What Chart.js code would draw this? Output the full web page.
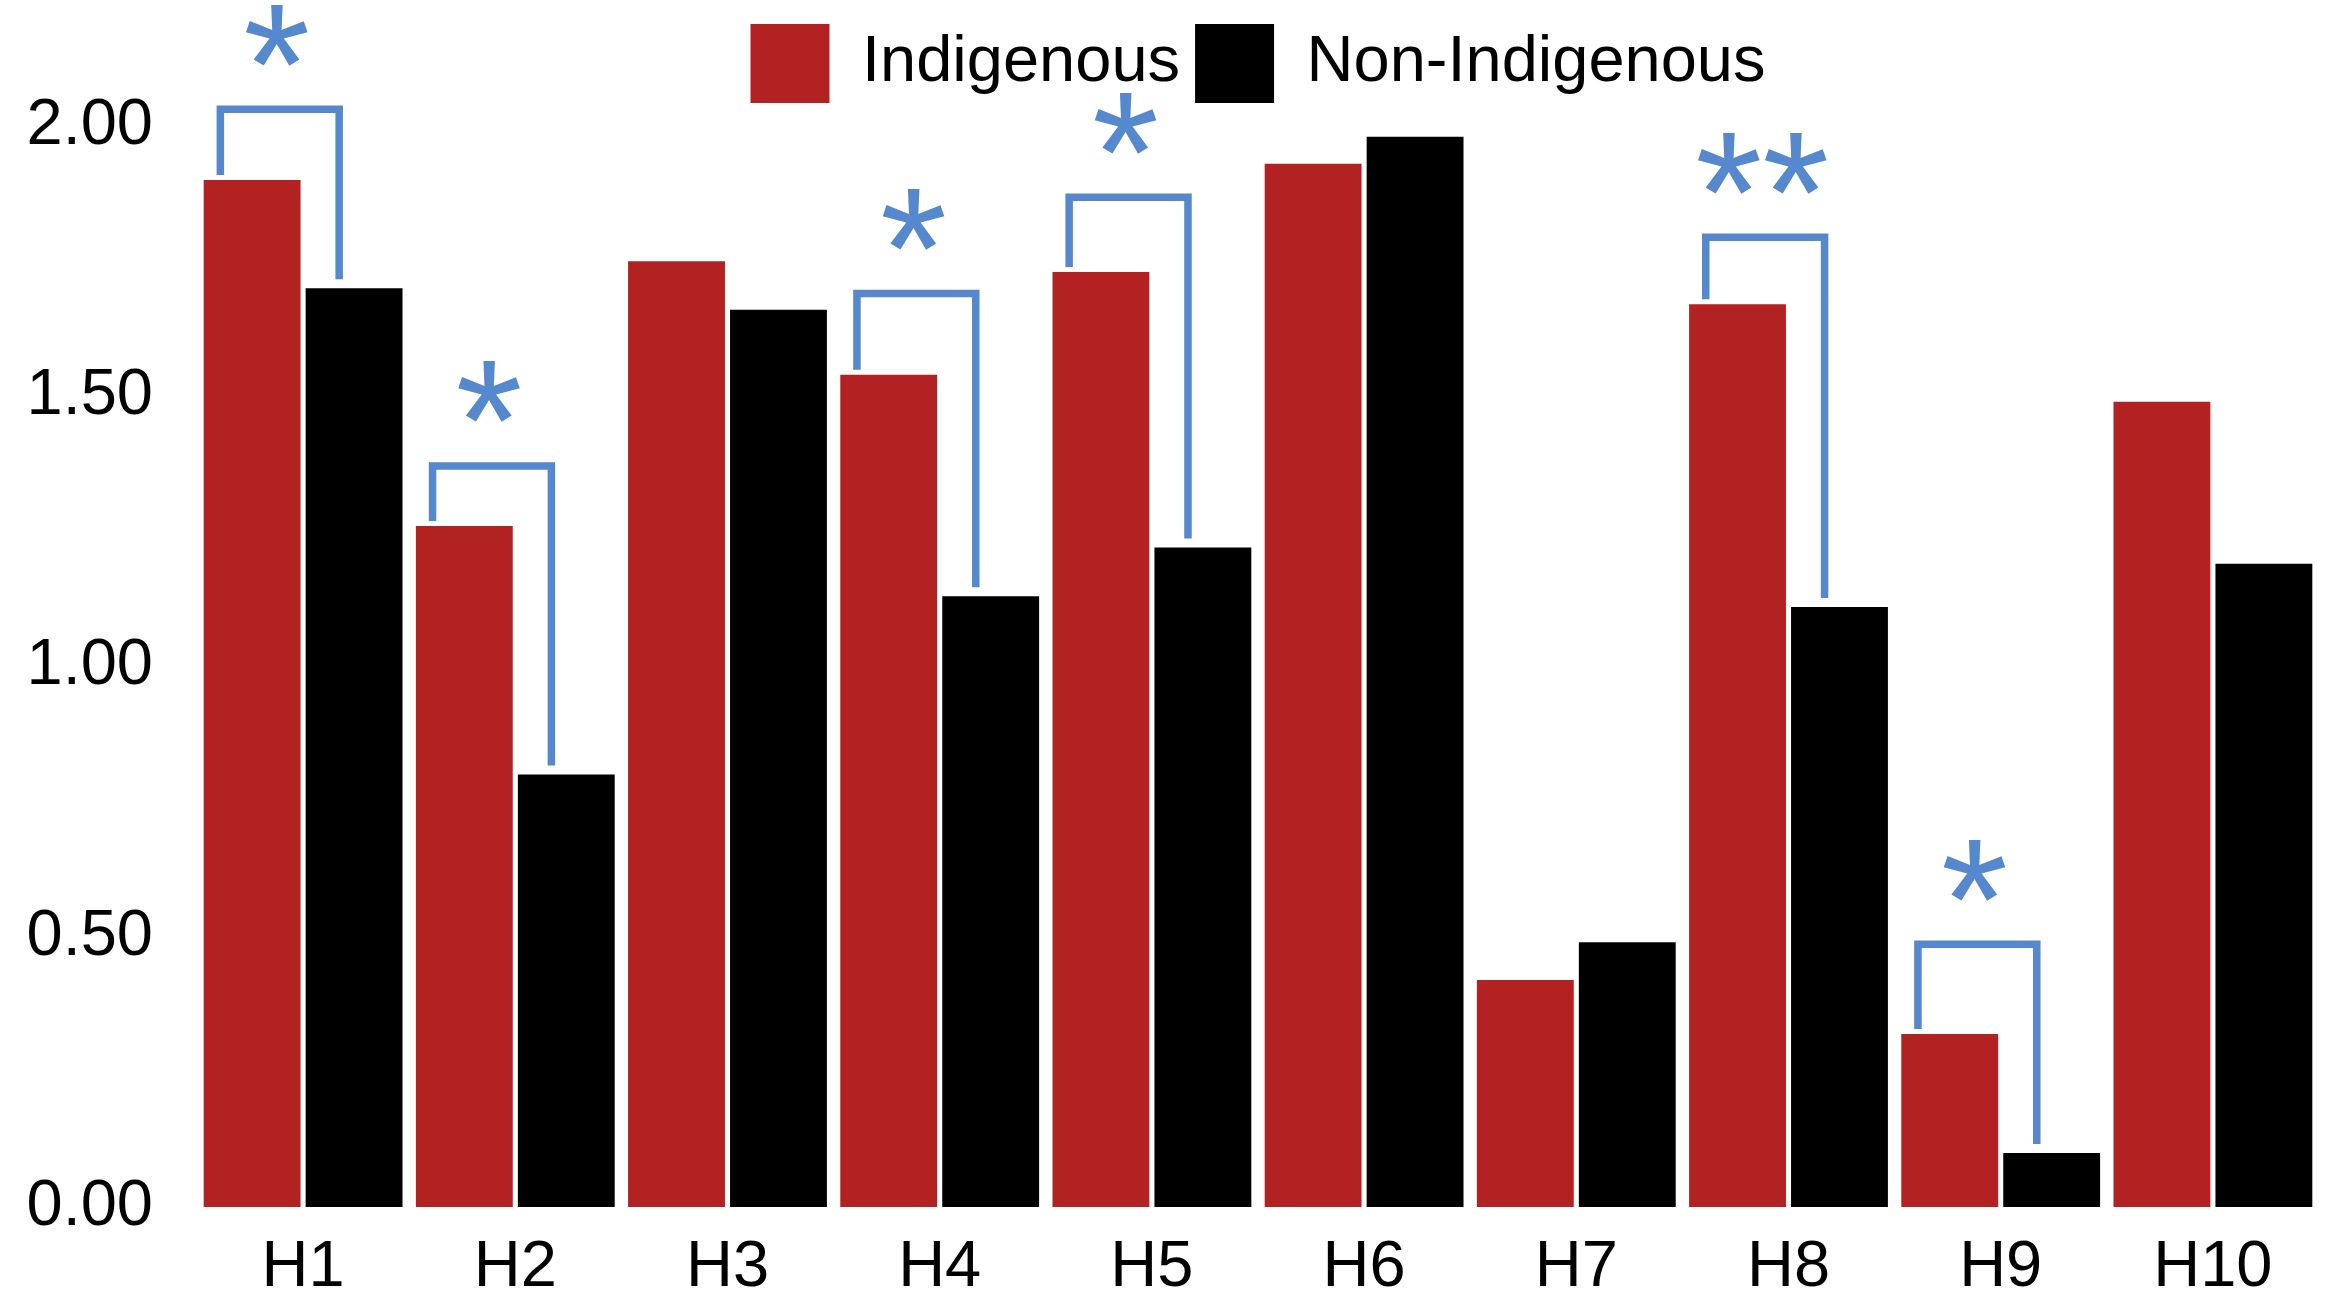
<!DOCTYPE html>
<html>
<head>
<meta charset="utf-8">
<script src="https://cdn.jsdelivr.net/npm/chart.js@4.4.1/dist/chart.umd.min.js"></script>
<style>
  html, body { margin: 0; padding: 0; background: #fff; }
  #wrap { width: 2331px; height: 1295px; }
</style>
</head>
<body>
<div id="wrap"><canvas id="chart" width="2331" height="1295"></canvas></div>
<script>
// data
const categories = ['H1', 'H2', 'H3', 'H4', 'H5', 'H6', 'H7', 'H8', 'H9', 'H10'];
const indigenous = [1.90, 1.26, 1.75, 1.54, 1.73, 1.93, 0.42, 1.67, 0.32, 1.49];
const nonIndigenous = [1.70, 0.80, 1.66, 1.13, 1.22, 1.98, 0.49, 1.11, 0.10, 1.19];
const yTicks = [0, 0.5, 1, 1.5, 2];

// significance markers and the height of each bracket
const signif = ['*', '*', '', '*', '*', '', '', '**', '*', ''];
const bracketTop = [2.031, 1.371, 0, 1.690, 1.868, 0, 0, 1.794, 0.486, 0];

const RED = '#b22222';
const BLUE = '#5588cc';
const FONT = 'Liberation Sans, Arial, sans-serif';
const FONT_SIZE = 65;

// draws the blue brackets + asterisks
const bracketPlugin = {
    id: 'brackets',
    afterDatasetsDraw(chart) {
        const ctx = chart.ctx;
        const x = chart.scales.x;
        const y = chart.scales.y;
        const catW = x.getPixelForValue(1) - x.getPixelForValue(0);
        ctx.save();
        ctx.strokeStyle = BLUE;
        ctx.lineWidth = 7.5;
        ctx.lineCap = 'butt';
        ctx.lineJoin = 'miter';
        signif.forEach((mark, i) => {
            if (!mark) return;
            const cx = x.getPixelForValue(i);
            const xl = cx - catW * 0.39;
            const xr = cx + catW * 0.17;
            const yt = y.getPixelForValue(bracketTop[i]);
            const yl = y.getPixelForValue(indigenous[i]) - 5;
            const yr = y.getPixelForValue(nonIndigenous[i]) - 9;
            ctx.beginPath();
            ctx.moveTo(xl, yl);
            ctx.lineTo(xl, yt);
            ctx.lineTo(xr, yt);
            ctx.lineTo(xr, yr);
            ctx.stroke();

            // asterisk(s) centred above the bracket
            ctx.fillStyle = BLUE;
            ctx.font = '172px ' + FONT;
            ctx.textAlign = 'center';
            ctx.textBaseline = 'alphabetic';
            const m = ctx.measureText(mark);
            const cy = yt - 74;
            const base = cy + (m.actualBoundingBoxAscent - m.actualBoundingBoxDescent) / 2;
            ctx.fillText(mark, (xl + xr) / 2 - 3, base);
        });
        ctx.restore();
    }
};

// a bit of extra room under the legend
const legendSpace = {
    id: 'legendSpace',
    afterInit(chart) {
        const fit = chart.legend.fit;
        chart.legend.fit = function () {
            fit.call(this);
            this.height += 13;
        };
    }
};

new Chart(document.getElementById('chart'), {
    type: 'bar',
    data: {
        labels: categories,
        datasets: [
            { label: 'Indigenous', data: indigenous, backgroundColor: RED, borderWidth: 0 },
            { label: 'Non-Indigenous', data: nonIndigenous, backgroundColor: '#000', borderWidth: 0 }
        ]
    },
    options: {
        responsive: false,
        animation: false,
        devicePixelRatio: 1,
        layout: { padding: { top: 9, right: 12, bottom: 0, left: 0 } },
        datasets: {
            bar: { categoryPercentage: 0.961, barPercentage: 0.95 }
        },
        plugins: {
            tooltip: { enabled: false },
            legend: {
                position: 'top',
                fullSize: false,
                labels: {
                    boxWidth: 79,
                    boxHeight: 79,
                    padding: 15,
                    color: '#000',
                    font: { family: FONT, size: FONT_SIZE }
                }
            }
        },
        scales: {
            x: {
                grid: { display: false, drawTicks: false },
                border: { display: false },
                ticks: { color: '#000', padding: 22, font: { family: FONT, size: FONT_SIZE } },
                afterFit: (s) => { s.height = 88; }
            },
            y: {
                min: 0,
                max: 2,
                grid: { display: false, drawTicks: false },
                border: { display: false },
                afterBuildTicks: (s) => { s.ticks = yTicks.map(v => ({ value: v })); },
                ticks: {
                    color: '#000',
                    padding: 44,
                    font: { family: FONT, size: FONT_SIZE },
                    callback: (v) => Number(v).toFixed(2)
                },
                afterFit: (s) => { s.width = 197; }
            }
        }
    },
    plugins: [bracketPlugin, legendSpace]
});
</script>
</body>
</html>
